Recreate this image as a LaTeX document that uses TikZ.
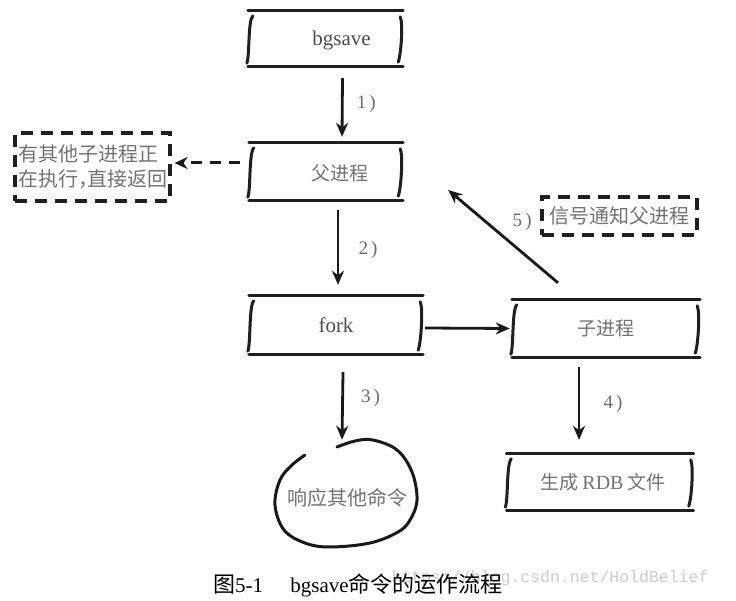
\documentclass[tikz,border=0pt]{standalone}
\usepackage{fontspec}
\newfontfamily\cjk{Noto Sans CJK SC}
\newfontfamily\tms{Liberation Serif}
\newfontfamily\wmk{Liberation Mono}
\usetikzlibrary{arrows.meta,calc}
\newcommand\skbox[1]{%
  \draw[boxline] ([xshift=-1pt]#1.north west) -- ([xshift=1pt]#1.north east);
  \draw[boxline] ([xshift=-1pt]#1.south west) -- ([xshift=1pt]#1.south east);
  \draw[boxline] ([shift={(4pt,-5pt)}]#1.north west) .. controls ([shift={(-1pt,-10pt)}]#1.north west) and ([shift={(1pt,10pt)}]#1.south west) .. ([shift={(-2pt,3pt)}]#1.south west);
  \draw[boxline] ([shift={(-2pt,-6pt)}]#1.north east) .. controls ([shift={(1pt,-12pt)}]#1.north east) and ([shift={(-1pt,12pt)}]#1.south east) .. ([shift={(-4pt,4pt)}]#1.south east);
}
\tikzset{
  boxline/.style={line width=3pt, line cap=round, black!88},
  hbox/.style={draw=none, inner sep=0pt},
  arr/.style={line width=2.8pt, -{Stealth[length=14pt,width=12pt]}, black!90},
  darr/.style={line width=3pt, dash pattern=on 11pt off 8pt, -{Stealth[length=13pt,width=12pt]}, black!90},
  dbox/.style={draw=black!88, line width=3.2pt, dash pattern=on 12pt off 8pt},
  cjkt/.style={font=\cjk\fontsize{19}{23}\selectfont, text=black!55},
  cjkb/.style={font=\cjk\fontsize{20}{25}\selectfont, text=black!55},
  latt/.style={font=\tms\fontsize{21}{24}\selectfont, text=black!70},
  steplbl/.style={font=\tms\fontsize{19}{22}\selectfont, text=black!58},
}
\begin{document}
\begin{tikzpicture}[x=1pt,y=-1pt]
\useasboundingbox (0,0) rectangle (736,601);
\fill[white] (0,0) rectangle (736,601);

% boxes
\node[hbox, minimum width=153pt, minimum height=55pt,
      label={[latt, xshift=16pt, yshift=-2pt]center:bgsave}] (bgsave) at (325.5,38.5) {};
\node[hbox, minimum width=152pt, minimum height=57pt,
      label={[cjkt, xshift=14pt, yshift=-2pt]center:父进程}] (fu) at (326,171.5) {};
\node[hbox, latt, minimum width=172pt, minimum height=58pt] (fork) at (336,325) {fork};
\node[hbox, cjkt, minimum width=186pt, minimum height=57pt] (zi) at (606,328.5) {子进程};
\node[hbox, cjkt, minimum width=185pt, minimum height=56pt] (rdb) at (600,482)
      {\hspace*{6pt}生成 {\tms\fontsize{20}{22}\selectfont RDB} 文件};
\skbox{bgsave}
\skbox{fu}
\skbox{fork}
\skbox{zi}
\skbox{rdb}

% dashed boxes
\node[dbox, cjkb, minimum width=155pt, minimum height=68pt, align=left, inner sep=0pt] (busy) at (92.5,167)
      {有其他子进程正\\在执行\makebox[0.45em][l]{，}直接返回};
\node[dbox, cjkb, minimum width=155pt, minimum height=38pt, inner sep=0pt] (sig) at (619.5,216) {信号通知父进程};

% blob
\node[hbox, cjkb, minimum width=145pt, minimum height=116pt] (blob) at (347,498) {响应其他命令};
\begin{scope}[shift={([xshift=-1pt,yshift=4pt]blob.center)}]
\draw[line width=3pt, line cap=round, black!90] plot[smooth, tension=0.6] coordinates {
 (-9,-47) (9,-53) (27,-54) (51,-44) (66,-22) (71,6) (64,26) (52,38) (24,49) (-16,53)
 (-41,49) (-62,36) (-71,11) (-66,-14) (-54,-29) (-41,-39)};
\end{scope}

% connectors
\draw[arr] ([shift={(17pt,-12pt)}]bgsave.south) -- ([shift={(16pt,6pt)}]fu.north)
  node[midway, steplbl, xshift=24pt, yshift=4pt] {1\,)};
\draw[arr] ([shift={(12pt,-10pt)}]fu.south) -- ([shift={(2pt,11pt)}]fork.north)
  node[midway, steplbl, xshift=30pt, yshift=-2pt] {2\,)};
\draw[arr] ([shift={(7pt,-18pt)}]fork.south) -- ([xshift=-5pt]blob.north)
  node[midway, steplbl, xshift=28pt, yshift=8pt] {3\,)};
\draw[arr] ([shift={(-27pt,-10pt)}]zi.south) -- ([shift={(-21pt,14pt)}]rdb.north)
  node[midway, steplbl, xshift=34pt, yshift=0pt] {4\,)};
\draw[arr] ([shift={(-48pt,17pt)}]zi.north) -- ([shift={(46pt,-18.5pt)}]fu.east)
  node[midway, steplbl, xshift=19pt, yshift=14pt] {5\,)};
\draw[arr] ([shift={(3pt,-3pt)}]fork.east) -- ([xshift=-3pt]zi.west);
\draw[darr] ([shift={(-10pt,8.5pt)}]fu.west) -- ([shift={(3pt,4pt)}]busy.east);

% watermark and caption
\node[anchor=east, font=\wmk\fontsize{16.5}{18}\selectfont, text=black!20] (wm) at (712,578) {https://blog.csdn.net/HoldBelief};
\node[anchor=west, inner sep=0pt, font=\tms\fontsize{21}{24}\selectfont, text=black] (cap) at (213,585)
  {{\cjk\fontsize{22}{24}\selectfont 图}5-1\hspace{1.3em}bgsave{\cjk\fontsize{22}{24}\selectfont 命令的运作流程}};
\end{tikzpicture}
\end{document}
